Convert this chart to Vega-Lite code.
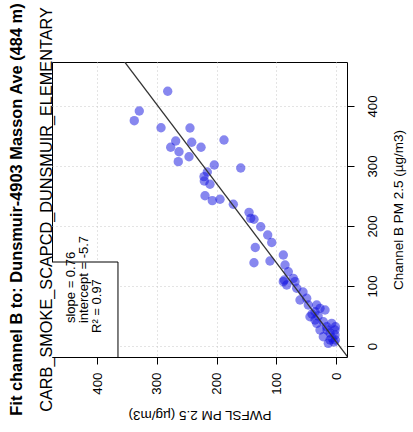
{
  "$schema": "https://vega.github.io/schema/vega-lite/v6.json",
  "width": 295,
  "height": 295,
  "autosize": {"type": "none"},
  "padding": {"left": 52, "top": 62, "right": 66, "bottom": 75},
  "background": "white",
  "config": {
    "view": {"stroke": "black", "strokeWidth": 1},
    "font": "Liberation Sans"
  },
  "title": {
    "text": "Fit channel B to: Dunsmuir-4903 Masson Ave (484 m)",
    "subtitle": "CARB_SMOKE_SCAPCD_DUNSMUIR_ELEMENTARY",
    "orient": "left",
    "anchor": "middle",
    "frame": "group",
    "font": "Liberation Sans",
    "fontSize": 16.4,
    "fontWeight": "bold",
    "color": "black",
    "subtitleFont": "Liberation Sans",
    "subtitleFontSize": 16.3,
    "subtitleColor": "black",
    "subtitlePadding": 13,
    "offset": -3
  },
  "datasets": {
    "pts": [
      {"pwfsl": 281.9, "chb": 424.5}, {"pwfsl": 329.5, "chb": 391.7}, {"pwfsl": 337.9, "chb": 375.5},
      {"pwfsl": 293.1, "chb": 363.8}, {"pwfsl": 244.6, "chb": 363.3}, {"pwfsl": 268.5, "chb": 341.7},
      {"pwfsl": 241.7, "chb": 339.5}, {"pwfsl": 187.6, "chb": 343.3}, {"pwfsl": 276.9, "chb": 331.2},
      {"pwfsl": 263.0, "chb": 323.8}, {"pwfsl": 226.1, "chb": 331.2}, {"pwfsl": 246.2, "chb": 315.5},
      {"pwfsl": 264.2, "chb": 307.2}, {"pwfsl": 203.9, "chb": 301.7}, {"pwfsl": 159.6, "chb": 296.7},
      {"pwfsl": 215.6, "chb": 290.0}, {"pwfsl": 221.1, "chb": 282.2}, {"pwfsl": 220.6, "chb": 275.0},
      {"pwfsl": 211.1, "chb": 269.5}, {"pwfsl": 219.4, "chb": 250.5}, {"pwfsl": 207.2, "chb": 242.2},
      {"pwfsl": 194.3, "chb": 244.5}, {"pwfsl": 172.0, "chb": 236.2}, {"pwfsl": 145.7, "chb": 222.8},
      {"pwfsl": 142.9, "chb": 212.8}, {"pwfsl": 137.4, "chb": 211.2}, {"pwfsl": 126.1, "chb": 198.8},
      {"pwfsl": 114.4, "chb": 185.0}, {"pwfsl": 107.7, "chb": 172.5}, {"pwfsl": 135.2, "chb": 164.2},
      {"pwfsl": 137.4, "chb": 138.8}, {"pwfsl": 110.6, "chb": 141.7}, {"pwfsl": 88.3, "chb": 151.7},
      {"pwfsl": 85.4, "chb": 135.0}, {"pwfsl": 79.9, "chb": 123.8}, {"pwfsl": 86.6, "chb": 110.0},
      {"pwfsl": 71.5, "chb": 112.8}, {"pwfsl": 88.3, "chb": 107.2}, {"pwfsl": 82.6, "chb": 101.7},
      {"pwfsl": 68.7, "chb": 107.2}, {"pwfsl": 65.8, "chb": 96.2}, {"pwfsl": 60.3, "chb": 76.7},
      {"pwfsl": 49.1, "chb": 79.5}, {"pwfsl": 46.4, "chb": 68.3}, {"pwfsl": 32.3, "chb": 68.3},
      {"pwfsl": 26.8, "chb": 62.8}, {"pwfsl": 18.4, "chb": 60.0}, {"pwfsl": 35.2, "chb": 57.2},
      {"pwfsl": 43.6, "chb": 48.8}, {"pwfsl": 35.2, "chb": 43.3}, {"pwfsl": 21.3, "chb": 40.5},
      {"pwfsl": 7.2, "chb": 37.8}, {"pwfsl": 1.7, "chb": 26.7}, {"pwfsl": 26.8, "chb": 26.7},
      {"pwfsl": 21.3, "chb": 15.5}, {"pwfsl": 10.0, "chb": 10.0}, {"pwfsl": 1.0, "chb": 10.0},
      {"pwfsl": 1.7, "chb": 18.3}, {"pwfsl": 15.6, "chb": 32.2}, {"pwfsl": 1.0, "chb": 32.2},
      {"pwfsl": 12.9, "chb": 4.5}, {"pwfsl": 32.3, "chb": 37.8}, {"pwfsl": 6.7, "chb": 13.3},
      {"pwfsl": 3.4, "chb": 6.7}, {"pwfsl": 10.0, "chb": 21.7}, {"pwfsl": 15.0, "chb": 26.7},
      {"pwfsl": 40.2, "chb": 53.3}, {"pwfsl": 55.3, "chb": 90.0}, {"pwfsl": 30.0, "chb": 50.0}
    ],
    "fit": [
      {"pwfsl": -25, "chb": -25.4},
      {"pwfsl": 480, "chb": 639.1}
    ],
    "box": [
      {"x1": 490, "x2": 365.2, "y1": -30, "y2": 140}
    ],
    "legend": [
      {"pwfsl": 444.7, "chb": 38.3, "label": "slope = 0.76"},
      {"pwfsl": 422.1, "chb": 38.3, "label": "intercept = -5.7"},
      {"pwfsl": 399.5, "chb": 21.7, "label": "R² = 0.97"}
    ]
  },
  "encoding": {
    "x": {
      "field": "pwfsl",
      "type": "quantitative",
      "scale": {"domain": [-18.4, 475.7], "reverse": true, "nice": false, "zero": false},
      "axis": {
        "orient": "bottom",
        "values": [0, 100, 200, 300, 400],
        "title": "PWFSL PM 2.5 (µg/m3)",
        "domain": false,
        "grid": true,
        "gridColor": "#c8c8c8",
        "gridDash": [1, 3],
        "gridWidth": 1,
        "ticks": true,
        "tickColor": "black",
        "tickSize": 7,
        "labelAngle": 270,
        "labelAlign": "right",
        "labelBaseline": "middle",
        "labelPadding": 8,
        "labelFont": "Liberation Sans",
        "labelFontSize": 13.3,
        "labelColor": "black",
        "titleFont": "Liberation Sans",
        "titleFontSize": 13.5,
        "titleFontWeight": "normal",
        "titleColor": "black",
        "titleAngle": 180,
        "titleAlign": "center",
        "titleBaseline": "middle",
        "titleX": 147.5,
        "titleY": 57
      }
    },
    "y": {
      "field": "chb",
      "type": "quantitative",
      "scale": {"domain": [-18.3, 473.3], "nice": false, "zero": false},
      "axis": {
        "orient": "right",
        "values": [0, 100, 200, 300, 400],
        "title": "Channel B PM 2.5 (µg/m3)",
        "domain": false,
        "grid": true,
        "gridColor": "#c8c8c8",
        "gridDash": [1, 3],
        "gridWidth": 1,
        "ticks": true,
        "tickColor": "black",
        "tickSize": 7,
        "labelAngle": 270,
        "labelAlign": "center",
        "labelBaseline": "top",
        "labelPadding": 11,
        "labelFont": "Liberation Sans",
        "labelFontSize": 13.3,
        "labelColor": "black",
        "titleFont": "Liberation Sans",
        "titleFontSize": 13.5,
        "titleFontWeight": "normal",
        "titleColor": "black",
        "titleAngle": 270,
        "titleAlign": "center",
        "titleBaseline": "middle",
        "titleX": 51,
        "titleY": 147.5
      }
    }
  },
  "layer": [
    {
      "data": {"name": "pts"},
      "mark": {"type": "circle", "size": 88, "color": "#1010e0", "opacity": 0.5, "stroke": null}
    },
    {
      "data": {"name": "fit"},
      "mark": {"type": "line", "color": "#333333", "strokeWidth": 1.3, "clip": true}
    },
    {
      "data": {"name": "box"},
      "mark": {"type": "rect", "fill": "white", "stroke": "black", "strokeWidth": 1, "clip": true},
      "encoding": {
        "x": {"field": "x1", "type": "quantitative"},
        "x2": {"field": "x2"},
        "y": {"field": "y1", "type": "quantitative"},
        "y2": {"field": "y2"}
      }
    },
    {
      "data": {"name": "legend"},
      "mark": {"type": "text", "angle": 270, "align": "left", "baseline": "middle", "font": "Liberation Sans", "fontSize": 13, "color": "black"},
      "encoding": {"text": {"field": "label"}}
    }
  ]
}
